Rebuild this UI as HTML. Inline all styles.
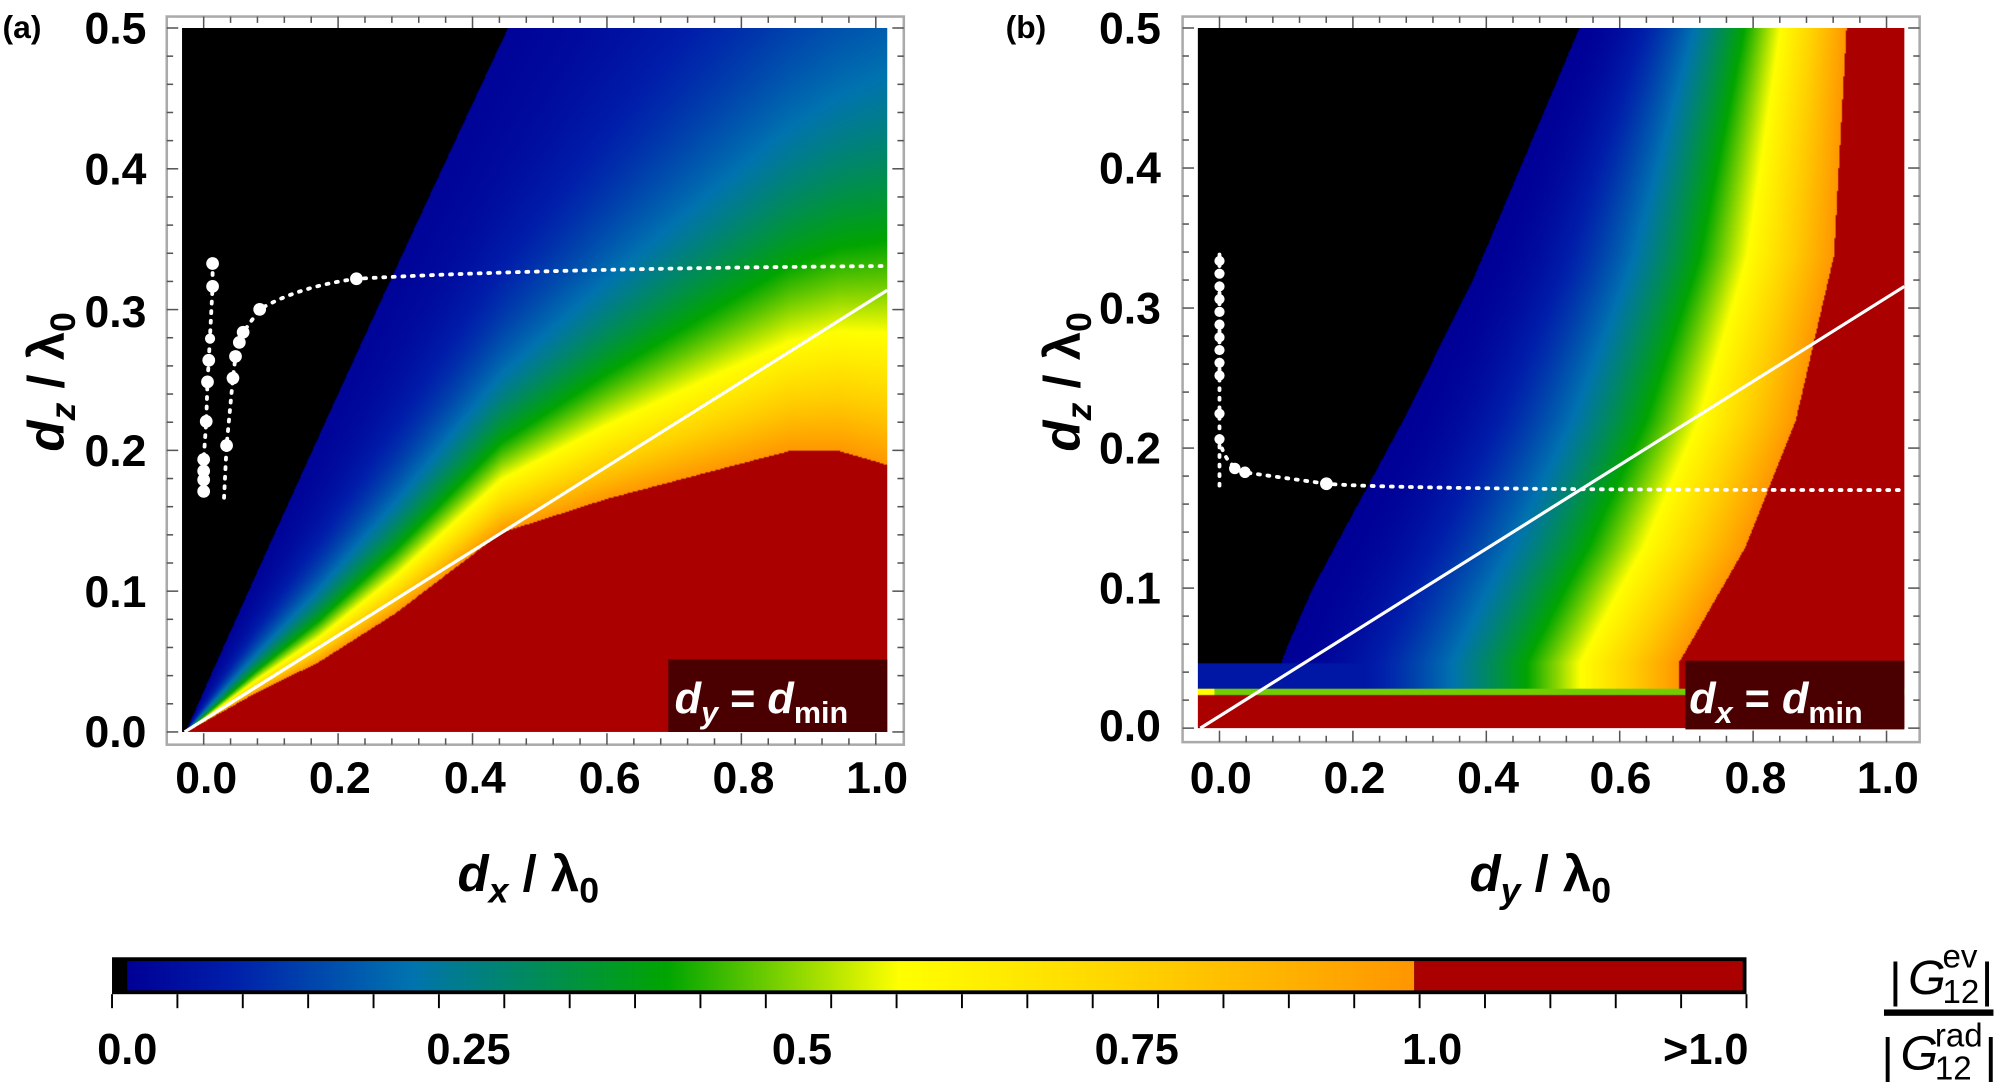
<!DOCTYPE html>
<html><head><meta charset="utf-8"><style>
html,body{margin:0;padding:0;background:#fff;width:1996px;height:1085px;overflow:hidden}
#w{position:absolute;left:0;top:0;width:1568px;height:852px;transform:scale(1.27296);transform-origin:0 0}
canvas{position:absolute}
svg{position:absolute;left:0;top:0}
text{font-family:"Liberation Sans",sans-serif;font-weight:bold;fill:#000}
</style></head><body><div id="w">
<canvas id="ca" width="554" height="553" style="left:143px;top:22px;width:554px;height:553px"></canvas>
<canvas id="cb" width="555" height="550" style="left:941px;top:22px;width:555px;height:550px"></canvas>
<svg width="1568" height="852" viewBox="0 0 1568 852">
<defs>
<linearGradient id="cbg" x1="0" x2="1" y1="0" y2="0">
<stop offset="0" stop-color="#000096"/><stop offset="0.08" stop-color="#001eaa"/>
<stop offset="0.22" stop-color="#0073af"/><stop offset="0.42" stop-color="#00a500"/>
<stop offset="0.6" stop-color="#ffff00"/><stop offset="0.8" stop-color="#ffcd00"/>
<stop offset="1" stop-color="#ff9600"/></linearGradient>
</defs>
<rect x="131" y="13" width="579" height="572" fill="none" stroke="#aaa" stroke-width="2"/>
<rect x="929" y="13" width="579" height="570" fill="none" stroke="#aaa" stroke-width="2"/>
<g id="ticks" stroke="#555" stroke-width="1.2"></g>
<line x1="145" y1="575" x2="697" y2="228" stroke="#fff" stroke-width="2.5"/>
<line x1="943" y1="572" x2="1496" y2="225" stroke="#fff" stroke-width="2.5"/>
<g fill="none" stroke="#fff" stroke-width="3" stroke-dasharray="1.5 6" stroke-linecap="round">
<path d="M167,207 L167,225 L164,283 L163,300 L162,331 L160,361 L160,392"/>
<path d="M176,391 L178,350 L183,297 L185,280 L188,268 L191,261 L204,243 Q235,225 280,219 Q420,211 697,209"/>
<path d="M958,200 L958,385"/>
<path d="M958,345 Q962,365 977,371 L1042,380 Q1100,385 1496,385"/>
</g>
<g fill="#fff">
<circle cx="167" cy="207" r="5"/><circle cx="167" cy="225" r="5"/><circle cx="165" cy="266" r="4"/><circle cx="164" cy="283" r="5"/><circle cx="163" cy="300" r="5"/><circle cx="162" cy="331" r="5"/><circle cx="160" cy="361" r="5"/><circle cx="160" cy="370" r="5"/><circle cx="160" cy="377" r="5"/><circle cx="160" cy="386" r="5"/>
<circle cx="178" cy="350" r="5"/><circle cx="183" cy="297" r="5"/><circle cx="185" cy="280" r="5"/><circle cx="188" cy="269" r="5"/><circle cx="191" cy="261" r="5"/><circle cx="204" cy="243" r="5"/><circle cx="280" cy="219" r="5"/>
<circle cx="958" cy="205" r="4"/><circle cx="958" cy="215" r="4"/><circle cx="958" cy="225" r="4"/><circle cx="958" cy="235" r="4"/><circle cx="958" cy="245" r="4"/><circle cx="958" cy="255" r="4"/><circle cx="958" cy="265" r="4"/><circle cx="958" cy="275" r="4"/><circle cx="958" cy="285" r="4"/><circle cx="958" cy="295" r="4"/><circle cx="958" cy="325" r="4"/><circle cx="958" cy="345" r="4"/>
<circle cx="970" cy="368" r="4.5"/><circle cx="978" cy="371" r="4.5"/><circle cx="1042" cy="380" r="5"/>
</g>
<rect x="525" y="518" width="172" height="57" fill="#4a0000"/>
<text x="530" y="560" style="fill:#fff;font-size:34px"><tspan font-style="italic">d</tspan><tspan font-style="italic" font-size="24" dy="8">y</tspan><tspan dy="-8"> = </tspan><tspan font-style="italic">d</tspan><tspan font-size="24" dy="8">min</tspan></text>
<rect x="1324" y="519" width="172" height="54" fill="#4a0000"/>
<text x="1327" y="560" style="fill:#fff;font-size:34px"><tspan font-style="italic">d</tspan><tspan font-style="italic" font-size="24" dy="8">x</tspan><tspan dy="-8"> = </tspan><tspan font-style="italic">d</tspan><tspan font-size="24" dy="8">min</tspan></text>
<text x="2" y="30" style="font-size:25px">(a)</text>
<text x="790" y="30" style="font-size:25px">(b)</text>
<g style="font-size:35px" text-anchor="end">
<text x="115" y="34">0.5</text><text x="115" y="145">0.4</text><text x="115" y="257">0.3</text><text x="115" y="366">0.2</text><text x="115" y="477">0.1</text><text x="115" y="587">0.0</text>
<text x="912" y="34">0.5</text><text x="912" y="144">0.4</text><text x="912" y="254">0.3</text><text x="912" y="364">0.2</text><text x="912" y="474">0.1</text><text x="912" y="582">0.0</text>
</g>
<g style="font-size:35px" text-anchor="middle">
<text x="162" y="623">0.0</text><text x="267" y="623">0.2</text><text x="373" y="623">0.4</text><text x="479" y="623">0.6</text><text x="584" y="623">0.8</text><text x="689" y="623">1.0</text>
<text x="959" y="623">0.0</text><text x="1064" y="623">0.2</text><text x="1169" y="623">0.4</text><text x="1273" y="623">0.6</text><text x="1379" y="623">0.8</text><text x="1483" y="623">1.0</text>
</g>
<text x="415" y="700" text-anchor="middle" style="font-size:40px"><tspan font-style="italic">d</tspan><tspan font-style="italic" font-size="28" dy="9">x</tspan><tspan dy="-9"> / λ</tspan><tspan font-size="28" dy="9">0</tspan></text>
<text x="1210" y="700" text-anchor="middle" style="font-size:40px"><tspan font-style="italic">d</tspan><tspan font-style="italic" font-size="28" dy="9">y</tspan><tspan dy="-9"> / λ</tspan><tspan font-size="28" dy="9">0</tspan></text>
<text transform="translate(50,300) rotate(-90)" text-anchor="middle" style="font-size:40px"><tspan font-style="italic">d</tspan><tspan font-style="italic" font-size="28" dy="9">z</tspan><tspan dy="-9"> / λ</tspan><tspan font-size="28" dy="9">0</tspan></text>
<text transform="translate(848,300) rotate(-90)" text-anchor="middle" style="font-size:40px"><tspan font-style="italic">d</tspan><tspan font-style="italic" font-size="28" dy="9">z</tspan><tspan dy="-9"> / λ</tspan><tspan font-size="28" dy="9">0</tspan></text>
<rect x="88" y="752" width="1284" height="29" fill="#000"/>
<rect x="100" y="755" width="1011" height="23" fill="url(#cbg)"/>
<rect x="1111" y="755" width="258" height="23" fill="#aa0000"/>
<g id="cbt" stroke="#000" stroke-width="1.5"></g>
<g style="font-size:34px" text-anchor="middle">
<text x="100" y="836">0.0</text><text x="368" y="836">0.25</text><text x="630" y="836">0.5</text><text x="893" y="836">0.75</text><text x="1125" y="836">1.0</text><text x="1340" y="836">&gt;1.0</text>
</g>
<g>
<text x="1484" y="783" style="font-weight:normal;font-size:38px">|</text><text x="1499" y="781" style="font-weight:normal;font-style:italic;font-size:38px">G</text>
<text x="1526" y="760" style="font-weight:normal;font-size:26px">ev</text><text x="1526" y="788" style="font-weight:normal;font-size:26px">12</text>
<text x="1556" y="783" style="font-weight:normal;font-size:38px">|</text>
<rect x="1480" y="793" width="86" height="5" fill="#000"/>
<text x="1478" y="842" style="font-weight:normal;font-size:38px">|</text><text x="1493" y="840" style="font-weight:normal;font-style:italic;font-size:38px">G</text>
<text x="1520" y="822" style="font-weight:normal;font-size:26px">rad</text><text x="1520" y="848" style="font-weight:normal;font-size:26px">12</text>
<text x="1559" y="842" style="font-weight:normal;font-size:38px">|</text>
</g>
</svg>
</div>
<script>
(function(){
var NS="http://www.w3.org/2000/svg";
function ln(g,x1,y1,x2,y2){var l=document.createElementNS(NS,"line");l.setAttribute("x1",x1);l.setAttribute("y1",y1);l.setAttribute("x2",x2);l.setAttribute("y2",y2);g.appendChild(l);}
var g=document.getElementById("ticks");
function frame(L,R,T,B,x0,x1,y0,y1){
 for(var i=0;i<=25;i++){var x=x0+(x1-x0)*i/25,len=(i%5==0)?9:5;ln(g,x,T,x,T+len);ln(g,x,B,x,B-len);}
 for(var i=0;i<=25;i++){var y=y0+(y1-y0)*i/25,len=(i%5==0)?9:5;ln(g,L,y,L+len,y);ln(g,R,y,R-len,y);}
}
frame(131,710,13,585,160,688,575,22);
frame(929,1508,13,583,958,1482,572,22);
var c=document.getElementById("cbt");
for(var i=0;i<=25;i++){var x=88+1284*i/25;ln(c,x,781,x,792);}
var st=[[0,0,0,150],[0.08,0,30,170],[0.22,0,115,175],[0.42,0,165,0],[0.6,255,255,0],[0.8,255,205,0],[1,255,150,0]];
function cm(v){if(v<0)v=0;if(v>1)v=1;for(var i=1;i<st.length;i++){if(v<=st[i][0]){var a=st[i-1],b=st[i],t=(v-a[0])/(b[0]-a[0]);return [a[1]+(b[1]-a[1])*t,a[2]+(b[2]-a[2])*t,a[3]+(b[3]-a[3])*t];}}return [255,150,0];}
function interp(pts,x){if(x<=pts[0][0])return pts[0][1];for(var i=1;i<pts.length;i++){if(x<=pts[i][0]){var a=pts[i-1],b=pts[i];return a[1]+(b[1]-a[1])*(x-a[0])/(b[0]-a[0]);}}return pts[pts.length-1][1];}
var RED=[170,0,0];
var ca=document.getElementById("ca"),xa=ca.getContext("2d"),W=554,H=553,im=xa.createImageData(W,H),d=im.data;
var rp=[[0,0],[0.1,0.028],[0.19,0.05],[0.3,0.085],[0.45,0.142],[0.6,0.166],[0.752,0.186],[0.86,0.2],[0.93,0.2],[1.0,0.19],[1.1,0.18]];
for(var py=0;py<H;py++)for(var px=0;px<W;px++){
 var x=(px+143-145)/552,z=(575-(py+22))/553*0.5,col;
 var zb=x*1.12*(1-0.06*x);
 var r=interp(rp,x);
 if(z>zb)col=[0,0,0];else if(z<r)col=RED;else{var t=(z-r)/Math.max(zb-r,1e-6);col=cm(Math.exp(-4.7*t));}
 var k=(py*W+px)*4;d[k]=col[0];d[k+1]=col[1];d[k+2]=col[2];d[k+3]=255;}
xa.putImageData(im,0,0);
var cb=document.getElementById("cb"),xb=cb.getContext("2d");W=555;H=550;im=xb.createImageData(W,H);d=im.data;
var bp=[[0.047,0.115],[0.06,0.125],[0.1,0.16],[0.22,0.29],[0.32,0.39],[0.42,0.475],[0.5,0.543]];
var rr=[[0.047,0.686],[0.065,0.707],[0.129,0.781],[0.22,0.854],[0.338,0.909],[0.5,0.927]];
for(var py=0;py<H;py++)for(var px=0;px<W;px++){
 var x=(px+941-943)/547,z=(572-(py+22))/550*0.5,col;
 if(z<0.0245)col=RED;
 else if(z<0.029)col=(x<0.02?[255,255,0]:cm(0.5));
 else{
  var xl=interp(bp,z),xr=interp(rr,z);
  if(z<0.047){ if(x<xl)col=cm(0.06); else if(x>xr)col=RED; else{var t=(x-xl)/(xr-xl);col=cm(Math.max(0.06,Math.pow(t,1.8)));} }
  else if(z<0.052&&x<xl){col=(x<0.12?[0,0,0]:cm(0.06));}
  else if(x<xl)col=[0,0,0];
  else if(x>xr)col=RED;
  else{var t=(x-xl)/(xr-xl);col=cm(Math.pow(t,1.8));}
 }
 var k=(py*W+px)*4;d[k]=col[0];d[k+1]=col[1];d[k+2]=col[2];d[k+3]=255;}
xb.putImageData(im,0,0);
})();
</script>
</body></html>
